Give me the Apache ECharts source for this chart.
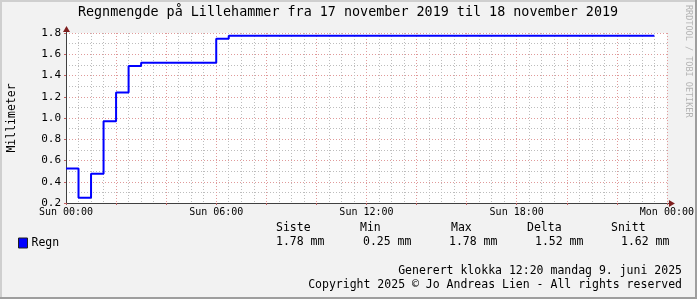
<!DOCTYPE html>
<html><head><meta charset="utf-8">
<script src="https://cdn.jsdelivr.net/npm/echarts@6/dist/echarts.min.js"></script>
<style>html,body{margin:0;padding:0;background:#f2f2f2}#c{width:697px;height:299px}</style>
</head><body><div id="c"></div>
<script>
// Data (hours since Sun 00:00, rain in mm), step series
const hours  = [0, 0.5, 1, 1.5, 2, 2.5, 3, 6, 6.5, 23.5];
const values = [0.525, 0.25, 0.475, 0.97, 1.24, 1.49, 1.52, 1.745, 1.775, 1.775];
const xTickLabels = ['Sun 00:00', 'Sun 06:00', 'Sun 12:00', 'Sun 18:00', 'Mon 00:00'];
const statHeaders = ['Siste', 'Min', 'Max', 'Delta', 'Snitt'];
const statValues  = ['1.78 mm', '0.25 mm', '1.78 mm', '1.52 mm', '1.62 mm'];
const titleText = 'Regnmengde på Lillehammer fra 17 november 2019 til 18 november 2019';
const footer1 = 'Generert klokka 12:20 mandag 9. juni 2025';
const footer2 = 'Copyright 2025 \u00a9 Jo Andreas Lien - All rights reserved';

const FONT = 'DejaVu Sans Mono';
const chart = echarts.init(document.getElementById('c'), null, {renderer: 'canvas'});

const gridL = 66, gridR = 30, gridT = 33, gridB = 96;
const minorC = '#bdbdbd', majorC = '#e09a9a';

const option = {
  backgroundColor: '#f2f2f2',
  animation: false,
  grid: {left: gridL, right: gridR, top: gridT, bottom: gridB, show: true, backgroundColor: '#ffffff', borderWidth: 0},
  xAxis: {
    type: 'value', min: 0, max: 24, interval: 2,
    axisLine: {show: true, lineStyle: {color: '#404040', width: 1}},
    axisTick: {show: true, length: 2, lineStyle: {color: '#c06060'}},
    minorTick: {show: false, splitNumber: 4},
    axisLabel: {
      color: '#000', fontFamily: FONT, fontSize: 10, margin: 4,
      showMinLabel: true, showMaxLabel: true,
      formatter: v => (v % 6 === 0 ? xTickLabels[v / 6] : '')
    },
    splitLine: {show: true, lineStyle: {color: majorC, type: [1, 2], width: 1}},
    minorSplitLine: {show: true, lineStyle: {color: minorC, type: [1, 2], width: 1}}
  },
  yAxis: {
    type: 'value', min: 0.2, max: 1.8, interval: 0.2,
    axisLine: {show: true, lineStyle: {color: '#404040', width: 1}},
    axisTick: {show: true, length: 2, lineStyle: {color: '#c06060'}},
    minorTick: {show: false, splitNumber: 2},
    axisLabel: {color: '#000', fontFamily: FONT, fontSize: 11, margin: 5, formatter: v => v.toFixed(1)},
    splitLine: {show: true, lineStyle: {color: majorC, type: [1, 2], width: 1}},
    minorSplitLine: {show: true, lineStyle: {color: minorC, type: [1, 2], width: 1}}
  },
  legend: {
    show: true, left: 13, top: 232, itemWidth: 9, itemHeight: 10, icon: 'rect',
    itemGap: 4,
    textStyle: {fontFamily: FONT, fontSize: 11.5, color: '#000', padding: [0, 0, 0, -1]},
    data: [{name: 'Regn', itemStyle: {color: '#0000ff', borderColor: '#202020', borderWidth: 1}}]
  },
  series: [{
    name: 'Regn', type: 'line', step: 'end', showSymbol: false, symbol: 'none',
    lineStyle: {color: '#0000ff', width: 2},
    itemStyle: {color: '#0000ff'},
    data: hours.map((h, i) => [h, values[i]])
  }]
};
chart.setOption(option);

// overlay graphics: frame, title, arrows, texts
const p0 = chart.convertToPixel({gridIndex: 0}, [0, 0.2]);
const p1 = chart.convertToPixel({gridIndex: 0}, [24, 1.8]);
const g = [];
// frame shading
g.push({type: 'rect', shape: {x: 0, y: 0, width: 697, height: 2}, style: {fill: '#cfcfcf'}, silent: true});
g.push({type: 'rect', shape: {x: 0, y: 0, width: 2, height: 299}, style: {fill: '#cfcfcf'}, silent: true});
g.push({type: 'rect', shape: {x: 695, y: 0, width: 2, height: 299}, style: {fill: '#9e9e9e'}, silent: true});
g.push({type: 'rect', shape: {x: 0, y: 297, width: 697, height: 2}, style: {fill: '#9e9e9e'}, silent: true});
// title
g.push({type: 'text', x: 348, y: 13, style: {text: titleText, font: '13.4px "DejaVu Sans Mono"', fill: '#000', align: 'center', verticalAlign: 'middle'}});
// y axis name
g.push({type: 'text', x: 12, y: 118, rotation: Math.PI / 2, style: {text: 'Millimeter', font: '11.5px "DejaVu Sans Mono"', fill: '#000', align: 'center', verticalAlign: 'middle'}});
// watermark
g.push({type: 'text', x: 688, y: 5, rotation: -Math.PI / 2, style: {text: 'RRDTOOL / TOBI OETIKER', font: '8.5px "DejaVu Sans Mono"', fill: '#b4b4b4', align: 'left', verticalAlign: 'middle'}});
// axis extensions and arrows
g.push({type: 'line', shape: {x1: p1[0], y1: p0[1] + 0.5, x2: p1[0] + 3, y2: p0[1] + 0.5}, style: {stroke: '#404040', lineWidth: 1}});
g.push({type: 'polygon', shape: {points: [[p1[0] + 2, p0[1] - 3], [p1[0] + 8, p0[1] + 0.5], [p1[0] + 2, p0[1] + 4]]}, style: {fill: '#7f1f1f'}});
g.push({type: 'line', shape: {x1: p0[0] + 0.5, y1: p1[1], x2: p0[0] + 0.5, y2: p1[1] - 3}, style: {stroke: '#404040', lineWidth: 1}});
g.push({type: 'polygon', shape: {points: [[p0[0] - 3, p1[1] - 1], [p0[0] + 0.5, p1[1] - 7], [p0[0] + 4, p1[1] - 1]]}, style: {fill: '#7f1f1f'}});
// stats
const statX = [276, 360, 451, 527, 611];
const valX = [276, 363, 449, 535, 621];
statHeaders.forEach((t, i) => g.push({type: 'text', x: statX[i], y: 228, style: {text: t, font: '11.5px "DejaVu Sans Mono"', fill: '#000', align: 'left', verticalAlign: 'middle'}}));
statValues.forEach((t, i) => g.push({type: 'text', x: valX[i], y: 242, style: {text: t, font: '11.5px "DejaVu Sans Mono"', fill: '#000', align: 'left', verticalAlign: 'middle'}}));
// footer
g.push({type: 'text', x: 682, y: 271, style: {text: footer1, font: '11.5px "DejaVu Sans Mono"', fill: '#000', align: 'right', verticalAlign: 'middle'}});
g.push({type: 'text', x: 682, y: 285, style: {text: footer2, font: '11.5px "DejaVu Sans Mono"', fill: '#000', align: 'right', verticalAlign: 'middle'}});
chart.setOption({graphic: g});
</script></body></html>
